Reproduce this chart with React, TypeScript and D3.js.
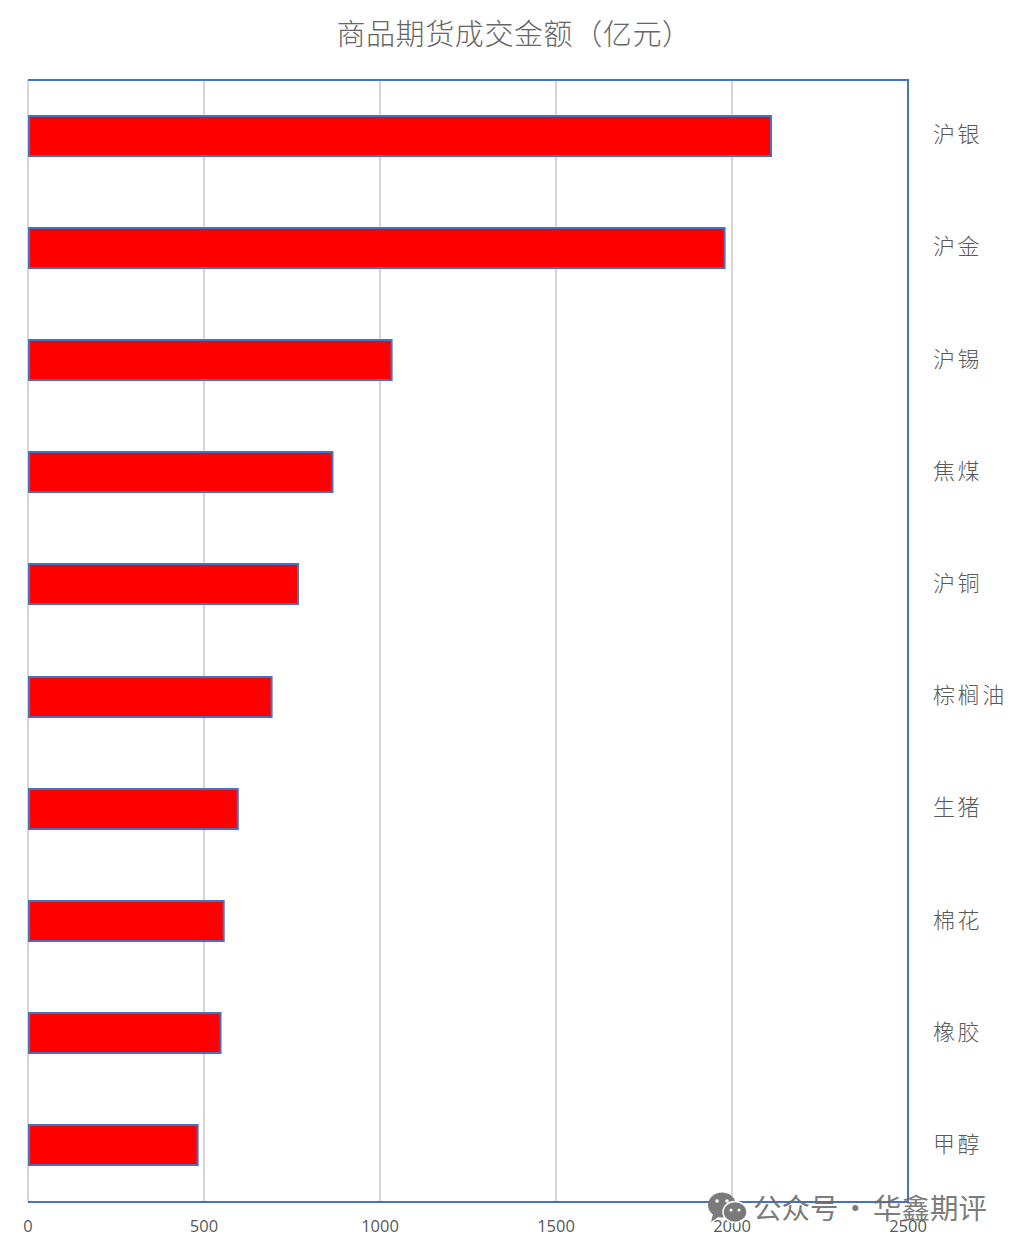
import React from "react";
import * as d3 from "d3";

const categories = ["沪银", "沪金", "沪锡", "焦煤", "沪铜", "棕榈油", "生猪", "棉花", "橡胶", "甲醇"];
const amounts = [2111, 1979, 1033, 865, 767, 692, 596, 556, 547, 482];
const ticks = [0, 500, 1000, 1500, 2000, 2500];
const title = "商品期货成交金额（亿元）";
const watermarkParts = ["公众号", "·", "华鑫期评"];
const watermarkX = [753, 841, 873];

const W = 1020, H = 1250;
const left = 28, right = 908, top = 80, bottom = 1202;
const CJK = '"Noto Sans CJK SC", sans-serif';

export default function App() {
  const x = d3.scaleLinear().domain([0, 2500]).range([left, right]);
  const y = d3.scaleBand<string>().domain(categories).range([top, bottom]).paddingInner(0.643).paddingOuter(0.3215);
  return (
    <svg width={W} height={H} style={{ position: "absolute", left: 0, top: 0, background: "#fff" }}>
      <text x={514} y={45} textAnchor="middle" fontFamily={CJK} fontWeight={300} fontSize={29} letterSpacing={0.6} fill="#666">{title}</text>
      {ticks.map((t) => (
        <line key={t} x1={x(t)} x2={x(t)} y1={top} y2={bottom} stroke="#d6d6d6" strokeWidth={2} />
      ))}
      <path d={`M${left},${top}H${right}V${bottom}H${left}`} fill="none" stroke="#4472c4" strokeWidth={2} />
      {categories.map((c, i) => (
        <rect key={c} x={left + 1} y={Math.floor(y(c)!)} width={x(amounts[i]) - left - 1} height={y.bandwidth()} fill="#ff0000" stroke="#4472c4" strokeWidth={2} />
      ))}
      {categories.map((c) => (
        <text key={c} x={933} y={y(c)! + y.bandwidth() / 2 + 6} fontFamily={CJK} fontWeight={300} fontSize={22} letterSpacing={2.6} fill="#595959">{c}</text>
      ))}
      {ticks.map((t) => (
        <text key={t} x={x(t)} y={1232} textAnchor="middle" fontFamily='"Open Sans", "Noto Sans", sans-serif' fontSize={16.5} fill="#595959">{t}</text>
      ))}
      <g fill="#7a7a7a">
        <ellipse cx={722} cy={1205} rx={14} ry={12.5} />
        <path d="M713,1214 L711,1222 L720,1216 Z" />
        <ellipse cx={735} cy={1212} rx={12} ry={10.5} stroke="#fff" strokeWidth={1.5} />
      </g>
      <g fill="#fff">
        <circle cx={717} cy={1201} r={1.8} />
        <circle cx={727} cy={1201} r={1.8} />
        <circle cx={731} cy={1210} r={1.5} />
        <circle cx={739} cy={1210} r={1.5} />
      </g>
      <text y={1219} fontFamily={CJK} fontSize={28.5} fill="#6a6a6a" fillOpacity={0.9}>
        {watermarkParts.map((p, i) => (
          <tspan key={p} x={watermarkX[i]}>{p}</tspan>
        ))}
      </text>
    </svg>
  );
}
